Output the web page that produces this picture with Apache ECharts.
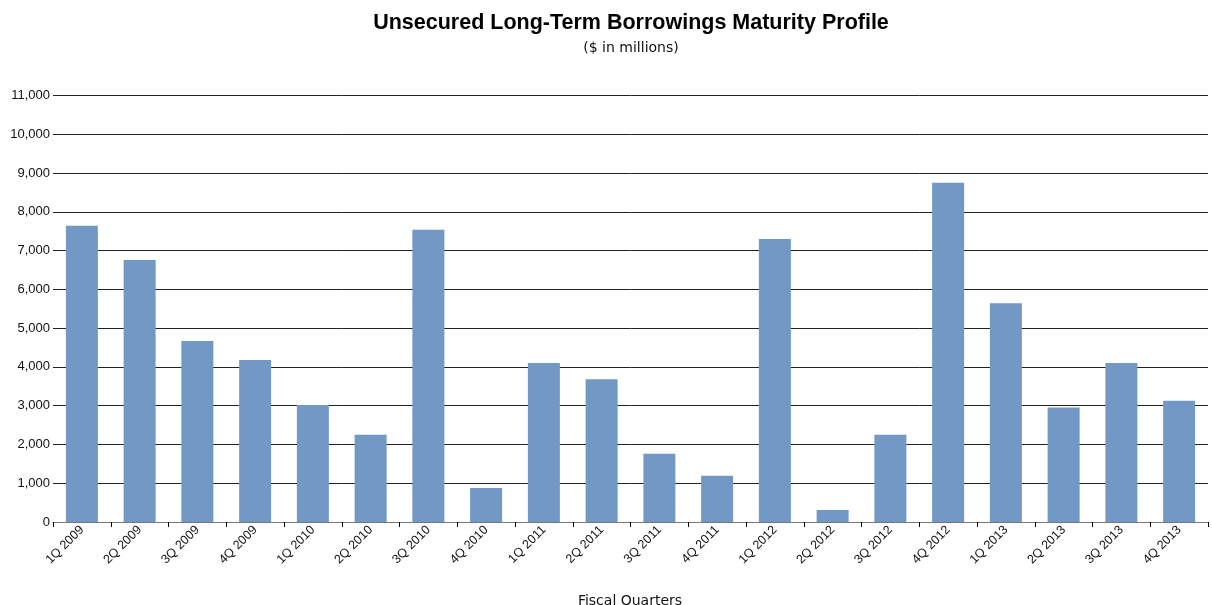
<!DOCTYPE html>
<html>
<head>
<meta charset="utf-8">
<script src="https://cdn.jsdelivr.net/npm/echarts@6/dist/echarts.min.js"></script>
<style>html,body{margin:0;padding:0;background:#fff}#c{width:1212px;height:605px}</style>
</head>
<body>
<div id="c"></div>
<script>
const categories = ["1Q 2009","2Q 2009","3Q 2009","4Q 2009","1Q 2010","2Q 2010","3Q 2010","4Q 2010","1Q 2011","2Q 2011","3Q 2011","4Q 2011","1Q 2012","2Q 2012","3Q 2012","4Q 2012","1Q 2013","2Q 2013","3Q 2013","4Q 2013"];
const maturities = [7640,6760,4670,4180,3020,2250,7540,880,4100,3680,1760,1190,7300,310,2250,8750,5640,2950,4100,3130];
const titleText = "Unsecured Long-Term Borrowings Maturity Profile";
const subtitleText = "($ in millions)";
const xAxisTitle = "Fiscal Quarters";

const chart = echarts.init(document.getElementById('c'), null, {renderer:'canvas'});
const font = "'Liberation Sans', Arial, sans-serif";
const wide = "'DejaVu Sans', sans-serif";
chart.setOption({
  animation: false,
  backgroundColor: '#fff',
  title: [
    {text: titleText, left: 626, top: 7, textAlign: 'center',
     textStyle: {fontFamily: font, fontWeight: 900, fontSize: 21.5, color: '#000'}},
    {text: subtitleText, left: 626, top: 36, textAlign: 'center',
     textStyle: {fontFamily: wide, fontWeight: 'normal', fontSize: 14, color: '#111'}},
    {text: xAxisTitle, left: 625, top: 589, textAlign: 'center',
     textStyle: {fontFamily: wide, fontWeight: 'normal', fontSize: 14, color: '#111'}}
  ],
  grid: {left: 53, right: 4, top: 95.5, bottom: 83, containLabel: false},
  xAxis: {
    type: 'category',
    data: categories,
    axisLine: {show: true, lineStyle: {color: '#777', width: 1}},
    axisTick: {show: true, alignWithLabel: false, length: 5, lineStyle: {color: '#000'}},
    axisLabel: {rotate: 45, fontFamily: font, fontSize: 12.5, color: '#111', margin: 6, interval: 0},
    splitLine: {show: false}
  },
  yAxis: {
    type: 'value',
    min: 0, max: 11000, interval: 1000,
    axisLine: {show: false},
    axisTick: {show: false},
    axisLabel: {fontFamily: font, fontSize: 13, color: '#111', margin: 3,
      formatter: v => v.toLocaleString('en-US')},
    splitLine: {show: true, lineStyle: {color: '#222', width: 1}}
  },
  series: [{
    type: 'bar',
    data: maturities,
    barWidth: 32,
    itemStyle: {color: '#7299c6'}
  }]
});
</script>
</body>
</html>
